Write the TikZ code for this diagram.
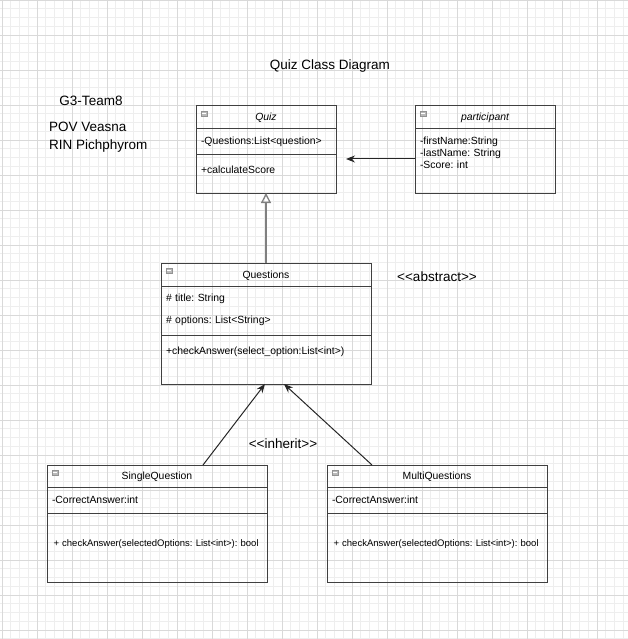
\documentclass[tikz,border=0pt]{standalone}
\usepackage{fontspec}
\setmainfont{Liberation Sans}[Ligatures=TeXOff]
\usetikzlibrary{positioning,arrows.meta}
\newcommand{\classfont}{\fontsize{10.4}{12}\selectfont\frenchspacing}
\newcommand{\methfont}{\fontsize{9.5}{11}\selectfont\frenchspacing}
\newcommand{\lblfont}{\fontsize{13.5}{17.5}\selectfont}

\begin{document}
\begin{tikzpicture}[x=1pt,y=-1pt,
				block/.style={draw=black!75,line width=1pt,rectangle,outer sep=0pt,inner xsep=5pt,inner ysep=0pt,node distance=0pt,align=left,font=\classfont},
				classhead/.style={block,align=center},
				cellsize/.style 2 args={text height=#1,text depth=#2},
				lbl/.style={font=\lblfont,inner sep=0pt},
				minorgrid/.style={gray!13,line width=0.7pt,step=8.75pt},
				majorgrid/.style={gray!30,line width=0.8pt,step=35pt},
				inherit/.style={draw=gray,line width=1.3pt,-{Triangle[open,length=10pt,width=10pt]}},
				assoc/.style={black!85,line width=1pt,-{Stealth[length=9pt,width=7pt]}},
				classicon/.pic={\filldraw[fill=gray!55,draw=gray!85,line width=0.6pt] (0,0) rectangle (6,5); \draw[white,line width=0.8pt] (1,2.5) -- (5,2.5);}]
				\useasboundingbox (0,639) rectangle (628,0);
				\draw[minorgrid,xshift=2pt] (-2pt,-639pt) grid (626pt,0pt);
				\draw[majorgrid,xshift=2pt] (-2pt,-639pt) grid (626pt,0pt);

				\node[lbl] (title) at (330,66) {Quiz Class Diagram};
				\node[lbl] (team) at (91,101) {G3-Team8};
				\node[lbl,anchor=west,align=left] (members) at (49,137) {POV Veasna\\RIN Pichphyrom};
				\node[lbl] (abstract) at (437,277) {<<abstract>>};
				\node[lbl] (inheritlbl) at (283,444) {<<inherit>>};

				\node[classhead,text width=130pt,cellsize={15pt}{8pt},anchor=north west,font=\classfont\itshape] (quizhead) at (196,106) {Quiz};
				\node[block,text width=130pt,cellsize={15.4pt}{10.6pt},below=of quizhead] (quizattr) {-Questions:List<question>};
				\node[block,text width=130pt,cellsize={19pt}{19pt},below=of quizattr] (quizmeth) {+calculateScore};

				\node[classhead,text width=130pt,cellsize={15pt}{8pt},anchor=north west,font=\classfont\itshape] (parthead) at (415,106) {participant};
				\node[block,text width=130pt,cellsize={15.4pt}{48.6pt},below=of parthead] (partattr) {-firstName:String\\-lastName: String\\-Score: int};

				\node[classhead,text width=200pt,cellsize={15.4pt}{7.6pt},anchor=north west] (qhead) at (161,263.3) {Questions};
				\node[block,text width=200pt,cellsize={15.4pt}{33.6pt},below=of qhead] (qattr) {\# title: String\\[9.5pt]\# options: List<String>};
				\node[block,text width=200pt,cellsize={19.1pt}{29.6pt},below=of qattr] (qmeth) {+checkAnswer(select\_option:List<int>)};

				\node[classhead,text width=210pt,cellsize={14.7pt}{7.6pt},anchor=north west] (singlehead) at (47,465) {SingleQuestion};
				\node[block,text width=210pt,cellsize={15.7pt}{10.3pt},below=of singlehead] (singleattr) {-CorrectAnswer:int};
				\node[block,text width=210pt,cellsize={33.4pt}{36pt},font=\methfont,below=of singleattr] (singlemeth) {\hspace*{1.5pt}+ checkAnswer(selectedOptions: List<int>): bool};

				\node[classhead,text width=210pt,cellsize={14.7pt}{7.6pt},anchor=north west] (multihead) at (327,465) {MultiQuestions};
				\node[block,text width=210pt,cellsize={15.7pt}{10.3pt},below=of multihead] (multiattr) {-CorrectAnswer:int};
				\node[block,text width=210pt,cellsize={33.4pt}{36pt},font=\methfont,below=of multiattr] (multimeth) {\hspace*{1.5pt}+ checkAnswer(selectedOptions: List<int>): bool};

				\pic at ([shift={(5pt,-5pt)}]quizhead.north west) {classicon};
				\pic at ([shift={(5pt,-5pt)}]parthead.north west) {classicon};
				\pic at ([shift={(5pt,-5pt)}]qhead.north west) {classicon};
				\pic at ([shift={(5pt,-5pt)}]singlehead.north west) {classicon};
				\pic at ([shift={(5pt,-5pt)}]multihead.north west) {classicon};

				\draw[inherit] (qhead) -- (quizmeth);
				\draw[assoc,shorten >=10pt] ([yshift=2pt]partattr.west) -- ([yshift=2pt]partattr.west -| quizmeth.east);
				\draw[assoc] ([xshift=46pt]singlehead.north) -- ([xshift=-1pt]qmeth.south);
				\draw[assoc] ([xshift=-65pt]multihead.north) -- ([xshift=18pt]qmeth.south);
\end{tikzpicture}
\end{document}
